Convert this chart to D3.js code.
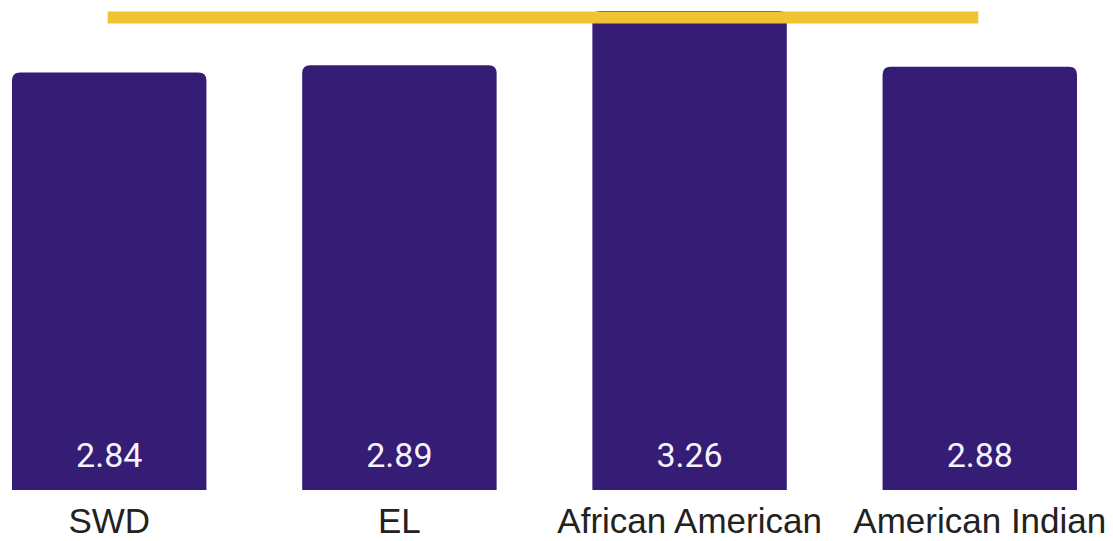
<!DOCTYPE html>
<html>
<head>
<meta charset="utf-8">
<script src="https://cdn.jsdelivr.net/npm/d3@7"></script>
<style>
  html, body { margin: 0; padding: 0; background: #ffffff; }
  svg { display: block; }
</style>
</head>
<body>
<svg id="chart" width="1113" height="541"></svg>
<script>
// Category groups and their average values
const categories = ["SWD", "EL", "African American", "American Indian"];
const values = [2.84, 2.89, 3.26, 2.88];
// Reference (overall) level drawn as a horizontal line
const referenceValue = [3.215];

const width = 1113, height = 541;
const svg = d3.select("#chart");

const x = d3.scaleBand()
  .domain(categories)
  .range([12, 1077])
  .paddingInner(0.33)
  .paddingOuter(0);

const y = d3.scaleLinear()
  .domain([0, 3.3])
  .range([490, 5]);

const barColor = "#351c75";
const lineColor = "#f1c232";
const r = 8;

// Bar path with rounded top corners only
function barPath(x0, y0, w, h) {
  const rr = Math.min(r, w / 2, h);
  return `M${x0},${y0 + h}` +
    `V${y0 + rr}` +
    `Q${x0},${y0} ${x0 + rr},${y0}` +
    `H${x0 + w - rr}` +
    `Q${x0 + w},${y0} ${x0 + w},${y0 + rr}` +
    `V${y0 + h}Z`;
}

const data = categories.map((c, i) => ({ cat: c, val: values[i] }));

svg.append("g")
  .selectAll("path")
  .data(data)
  .join("path")
  .attr("d", d => barPath(x(d.cat), y(d.val), x.bandwidth(), y(0) - y(d.val)))
  .attr("fill", barColor);

// Value labels inside the bars, near the base
svg.append("g")
  .selectAll("text")
  .data(data)
  .join("text")
  .attr("x", d => x(d.cat) + x.bandwidth() / 2)
  .attr("y", y(0) - 23)
  .attr("text-anchor", "middle")
  .style("font-family", "Roboto, sans-serif")
  .attr("font-size", 34)
  .attr("fill", "#f6f4fb")
  .text(d => d.val.toFixed(2));

// Category axis labels
const xAxis = d3.axisBottom(x).tickSize(0).tickPadding(0);
const axisG = svg.append("g")
  .attr("transform", `translate(0, ${y(0)})`)
  .call(xAxis);
axisG.select(".domain").remove();
axisG.selectAll("text")
  .attr("dy", null)
  .attr("y", 43)
  .style("font-family", "'Liberation Sans', Arial, sans-serif")
  .style("font-size", "35px")
  .attr("fill", "#222222");

// Reference line spanning first to last category centre
const firstC = x(categories[0]) + x.bandwidth() / 2;
const lastC = x(categories[categories.length - 1]) + x.bandwidth() / 2;
svg.append("line")
  .attr("x1", firstC - 1.5)
  .attr("x2", lastC - 1.5)
  .attr("y1", y(referenceValue[0]))
  .attr("y2", y(referenceValue[0]))
  .attr("stroke", lineColor)
  .attr("stroke-width", 12);
</script>
</body>
</html>
